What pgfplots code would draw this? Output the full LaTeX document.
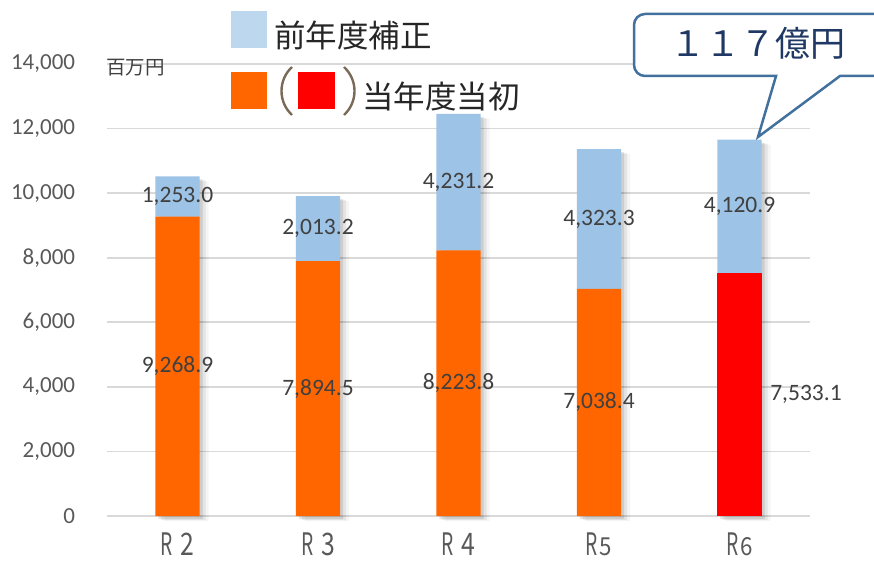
\documentclass[border=0pt]{standalone}
\usepackage{fontspec}
\usepackage{graphicx}
\usepackage{pgfplots}
\pgfplotsset{compat=1.18}
\setmainfont{Carlito}
\newfontfamily\jp{Noto Sans CJK JP}
\definecolor{barorange}{HTML}{FF6600}
\definecolor{barred}{HTML}{FF0000}
\definecolor{barblue}{HTML}{9DC3E6}
\definecolor{legblue}{HTML}{BDD7EE}
\definecolor{gridgray}{HTML}{D9D9D9}
\definecolor{tickgray}{HTML}{595959}
\definecolor{labgray}{HTML}{404040}
\definecolor{callblue}{HTML}{41719C}
\definecolor{navy}{HTML}{1F3864}
\definecolor{parbrown}{HTML}{7B6A58}
\definecolor{legtext}{HTML}{262626}
\newcommand\xl[1]{\scalebox{0.62}[1]{R}\hspace{8pt}\scalebox{0.8}[1]{#1}}
\newcommand\xs[1]{\scalebox{0.62}[1]{R}\hspace{2pt}\scalebox{0.72}[0.8]{#1}}
\begin{document}
\begin{tikzpicture}[x=1pt,y=1pt]
\useasboundingbox (0,0) rectangle (874,562);
\pgfplotsset{base/.style={at={(107.25pt,46pt)}, anchor=south west, scale only axis,
  width=702.5pt, height=452pt, xmin=-0.5, xmax=4.5, ymin=0, ymax=14000}}
% grid, ticks and shadows
\begin{axis}[base, axis line style={draw=none}, major tick length=0pt,
  ymajorgrids, grid style={gridgray, line width=1.6pt},
  ytick={0,2000,...,14000}, scaled y ticks=false,
  /pgf/number format/assume math mode=true,
  /pgf/number format/1000 sep={,},
  yticklabel style={anchor=east, inner sep=0pt, xshift=-32pt, text=tickgray, font=\fontsize{23}{26}\selectfont},
  xtick={0,1,2,3,4},
  xticklabels={\xl{2},\xl{3},\xl{4},\xs{5},\xs{6}},
  xticklabel style={anchor=north, inner sep=0pt, yshift=-17pt, text=tickgray, font=\jp\fontsize{31}{32}\selectfont},
  clip=false, ybar, bar width=44.4pt]
\addplot[fill=black, draw=none, fill opacity=0.10, bar shift=3pt, yshift=-3pt] coordinates {(0,10521.9) (1,9907.7) (2,12455.0) (3,11361.7) (4,11654.0)};
\addplot[fill=black, draw=none, fill opacity=0.07, bar shift=6pt, yshift=-4pt] coordinates {(0,10521.9) (1,9907.7) (2,12455.0) (3,11361.7) (4,11654.0)};
\addplot[fill=black, draw=none, fill opacity=0.04, bar shift=9pt, yshift=-5pt] coordinates {(0,10521.9) (1,9907.7) (2,12455.0) (3,11361.7) (4,11654.0)};
\end{axis}
% bars
\begin{axis}[base, hide axis, ybar stacked, bar width=44.4pt]
\addplot[fill=barorange, draw=none] coordinates {(0,9268.9) (1,7894.5) (2,8223.8) (3,7038.4) (4,0)};
\addplot[fill=barred, draw=none] coordinates {(0,0) (1,0) (2,0) (3,0) (4,7533.1)};
\addplot[fill=barblue, draw=none] coordinates {(0,1253.0) (1,2013.2) (2,4231.2) (3,4323.3) (4,4120.9)};
\end{axis}
% data labels
\begin{axis}[base, hide axis, clip=false]
\addplot[draw=none, mark=none, nodes near coords, point meta=explicit symbolic,
  every node near coord/.append style={anchor=center, inner sep=0pt, text=labgray, font=\fontsize{23.5}{26}\selectfont}]
  table[meta=lab] {
x y lab
0 4634.45 9,268.9
0 9895.4 1,253.0
1 3947.25 7,894.5
1 8901.1 2,013.2
2 4111.9 8,223.8
2 10339.4 4,231.2
3 3519.2 7,038.4
3 9200.05 4,323.3
4.473 3766.55 7,533.1
4 9593.55 4,120.9
};
\end{axis}
% unit
\node[anchor=west, inner sep=0pt, text=labgray, font=\jp\fontsize{19.5}{20}\selectfont] at (106,494) {百万円};
% legend
\fill[legblue] (231,514) rectangle (267,551);
\node[anchor=west, inner sep=0pt, text=legtext, font=\jp\fontsize{31.5}{32}\selectfont] at (274,527) {前年度補正};
\fill[barorange] (231,453) rectangle (267,490);
\draw[parbrown, line width=2.4pt] (292,495) .. controls (278,482) and (278,460) .. (292,447);
\fill[barred] (298,453) rectangle (335,490);
\draw[parbrown, line width=2.4pt] (344,495) .. controls (358,482) and (358,460) .. (344,447);
\node[anchor=west, inner sep=0pt, text=legtext, font=\jp\fontsize{31.5}{32}\selectfont] at (362,465) {当年度当初};
% callout
\draw[callblue, line width=2.5pt, fill=white] (874,548) [rounded corners=11pt] -- (634,548) -- (634,486) -- (700,486) [sharp corners] -- (776,486) -- (758,425) -- (840,486) -- (874,486);
\node[inner sep=0pt, text=navy, font=\jp\fontsize{35}{36}\selectfont] at (758,519) {１１７億円};
\end{tikzpicture}
\end{document}
